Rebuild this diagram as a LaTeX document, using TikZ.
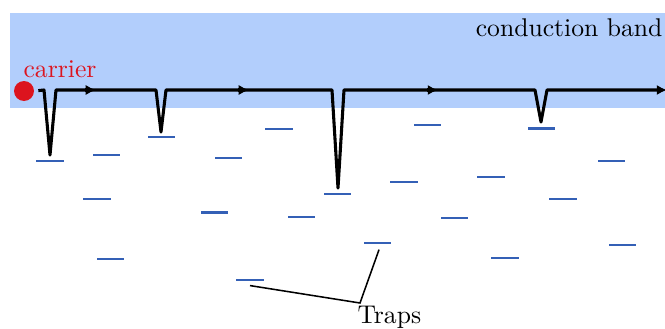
\documentclass[tikz,border=0pt]{standalone}
\usetikzlibrary{arrows.meta}
\definecolor{bandblue}{RGB}{178,206,252}
\definecolor{trapblue}{RGB}{52,96,182}
\definecolor{carrierred}{RGB}{220,20,30}
\begin{document}
\begin{tikzpicture}[x=0.39pt,y=-0.39pt,
  trap/.style={fill=trapblue, inner sep=0pt, minimum width=10.6pt, minimum height=1.15pt},
  hop/.style={line width=1.2pt, line join=round},
  tipmark/.style={-{Latex[length=4pt,width=4pt]}, line width=1.2pt},
  pointer/.style={line width=0.6pt}]
\useasboundingbox (0,0) rectangle (665,329);
\fill[bandblue] (10,13) rectangle (665,108);
\node[anchor=base east, inner sep=0pt] (cb) at (663,37) {conduction band};
\node[text=carrierred] (carrier) at (60,69) {carrier};
\node[circle, fill=carrierred, minimum size=7.8pt, inner sep=0pt] (dot) at (24,91) {};
% traps
\node[trap] (t1) at (50,161) {};
\node[trap] (t2) at (106.5,155) {};
\node[trap] (t3) at (161.5,137) {};
\node[trap] (t4) at (228.5,158) {};
\node[trap] (t5) at (279,129) {};
\node[trap] (t6) at (97,199) {};
\node[trap] (t7) at (214.5,212.5) {};
\node[trap] (t8) at (301.5,217) {};
\node[trap] (t9) at (337.5,194) {};
\node[trap] (t10) at (110.5,259) {};
\node[trap] (t11) at (250,280) {};
\node[trap] (t12) at (404,182) {};
\node[trap] (t13) at (427.5,125) {};
\node[trap] (t14) at (491,177) {};
\node[trap] (t15) at (454.5,218) {};
\node[trap] (t16) at (377.5,243) {};
\node[trap] (t17) at (505,258) {};
\node[trap] (t18) at (541.5,128.5) {};
\node[trap] (t19) at (563,199) {};
\node[trap] (t20) at (611.5,161) {};
\node[trap] (t21) at (622.5,245) {};
% carrier path
\coordinate (e) at (667,90);
\draw[hop, shorten <=1.5pt, -{Latex[length=4pt,width=4pt]}] (dot.east) -- (44,90) -- (50,155) -- (56,90)
  -- (156,90) -- (161,132) -- (166,90)
  -- (332,90) -- (338,188) -- (344,90)
  -- (535,90) -- (541,122) -- (547,90) -- (e);
\coordinate (a1s) at (85,90); \coordinate (a1e) at (96,90);
\coordinate (a2s) at (238,90); \coordinate (a2e) at (249,90);
\coordinate (a3s) at (427,90); \coordinate (a3e) at (438,90);
\draw[tipmark] (a1s) -- (a1e);
\draw[tipmark] (a2s) -- (a2e);
\draw[tipmark] (a3s) -- (a3e);
% Traps label
\node[anchor=base west, inner sep=0pt] (traps) at (357,323) {Traps};
\coordinate (j) at (360,303);
\draw[pointer] ([yshift=-1.4pt]t11.south) -- (j) -- ([xshift=0.6pt,yshift=-1.8pt]t16.south);
\end{tikzpicture}
\end{document}
